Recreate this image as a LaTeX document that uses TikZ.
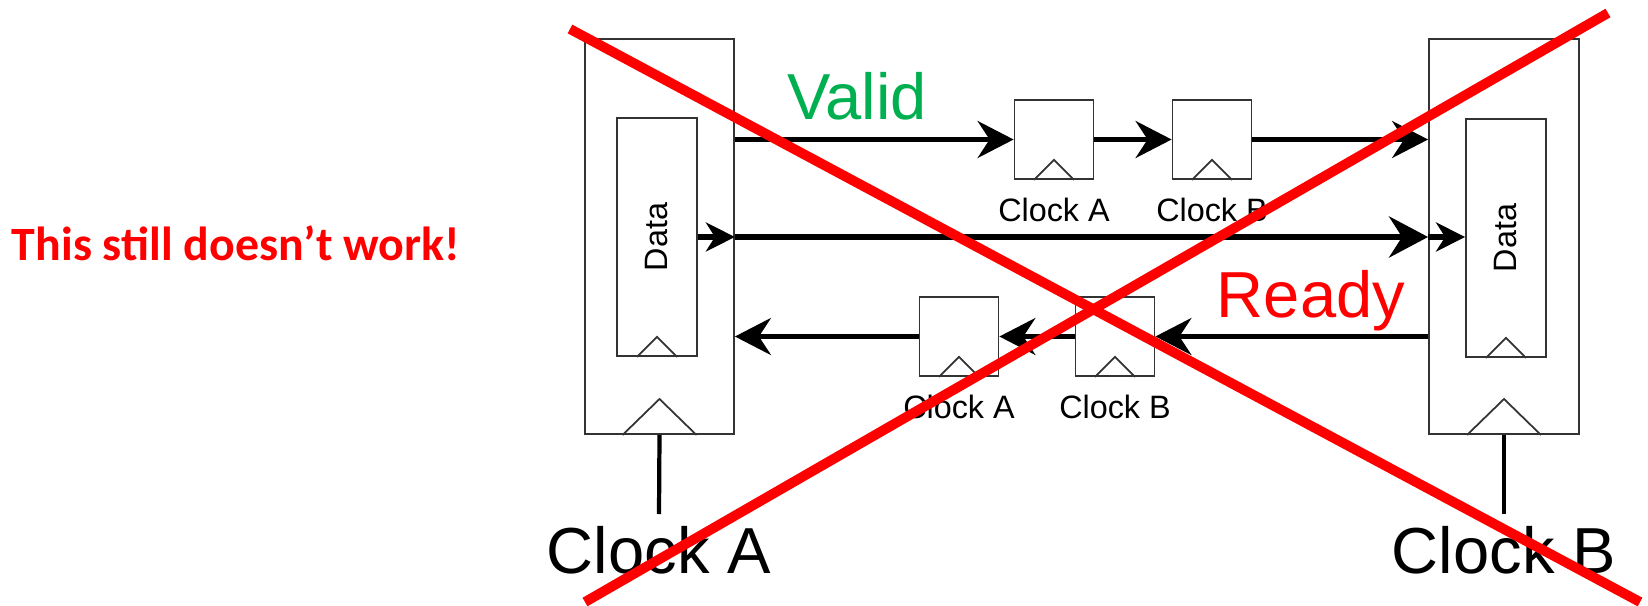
\documentclass[tikz,border=0pt]{standalone}
\usepackage{fontspec}
\setmainfont{Liberation Sans}
\newfontfamily\notefont{Carlito}
\usetikzlibrary{arrows.meta,positioning,calc}
\definecolor{okgreen}{HTML}{00B050}
\definecolor{nored}{HTML}{FF0000}
\tikzset{reg/.style={draw=black!80,line width=0.5pt,inner sep=0pt},
  flop/.style={reg,minimum width=7.9mm,minimum height=7.9mm},
  sig/.style={line width=1.2pt,-{Stealth[length=3.6mm,width=3.7mm,inset=1.2mm]}},
  bus/.style={line width=1.7pt,-{Stealth[length=3.9mm,width=4.1mm,inset=1.3mm]}},
  tap/.style={line width=1.7pt,-{Stealth[length=2.9mm,width=2.9mm,inset=0.9mm]}},
  small/.style={font=\fontsize{9.2}{11}\selectfont,inner sep=0pt},
  big/.style={font=\fontsize{18.5}{22}\selectfont,inner sep=0pt},
  cross/.style={nored,line width=2.8pt}}

\begin{document}
\begin{tikzpicture}[x=0.01cm,y=-0.01cm]
\useasboundingbox (0,0) rectangle (1648,606);
% the two clock domains
\node[reg,minimum width=14.9mm,minimum height=39.5mm] (boxA) at (659.5,236.5) {};
\node[reg,minimum width=15mm,minimum height=39.5mm] (boxB) at (1504,236.5) {};
\node[reg,minimum width=8mm,minimum height=23.8mm] (dA) at (657,237) {};
\node[reg,minimum width=8mm,minimum height=23.8mm] (dB) at (1506,238) {};
\node[small,rotate=90] (dAtxt) at (dA.center) {Data};
\node[small,rotate=90] (dBtxt) at (dB.center) {Data};
% synchroniser flops
\node[flop] (va) at (1054,139.5) {};
\node[flop] (vb) at (1212,139.5) {};
\node[flop] (ra) at (959,336.5) {};
\node[flop] (rb) at (1115,336.5) {};
\foreach \n/\t in {va/Clock A,vb/Clock B,ra/Clock A,rb/Clock B}
  \node[small,anchor=base] (\n clk) at ($(\n.south)+(0,42)$) {\t};
% clock edges
\foreach \n in {va,vb,ra,rb,dA,dB}
  \draw[black!80,line width=0.5pt] ($(\n.south)+(-20,0)$) -- ++(20,-20) -- ++(20,20);
\foreach \n in {boxA,boxB}
  \draw[black!80,line width=0.5pt] ($(\n.south)+(-37,0)$) -- ++(37,-36) -- ++(37,36);
% labels
\node[big,anchor=base] (clkA) at (659,573) {Clock A};
\node[big,anchor=base] (clkB) at (1504,573) {Clock B};
\node[big,anchor=base,text=okgreen] (valid) at (857,119) {Valid};
\node[big,anchor=base,text=nored] (ready) at (1311,317) {Ready};
\node[anchor=base,text=nored,font=\notefont\bfseries\fontsize{13.6}{16}\selectfont,inner sep=0pt]
  (note) at (236,260) {This still doesn’t work!};
\coordinate (ckA) at (659,514);
\coordinate (ckB) at (1504,514);
\draw[line width=1.2pt] (boxA.south) -- (ckA);
\draw[line width=1.2pt] (boxB.south) -- (ckB);
% valid path
\draw[sig] (va.west -| boxA.east) -- (va.west);
\draw[sig] (va.east) -- (vb.west);
\draw[sig] (vb.east) -- (vb.east -| boxB.west);
% data path
\draw[tap] (dA.east) -- (dA.east -| boxA.east);
\draw[bus] (dA.east -| boxA.east) -- (dA.east -| boxB.west);
\draw[tap] (dA.east -| boxB.west) -- (dA.east -| dB.west);
% ready path
\draw[sig] (rb.east -| boxB.west) -- (rb.east);
\draw[sig] (rb.west) -- (ra.east);
\draw[sig] (ra.west) -- (ra.west -| boxA.east);
% crossed out
\draw[cross] (570,29) -- (1640,602);
\draw[cross] (1608,13) -- (585,602);
\end{tikzpicture}
\end{document}
